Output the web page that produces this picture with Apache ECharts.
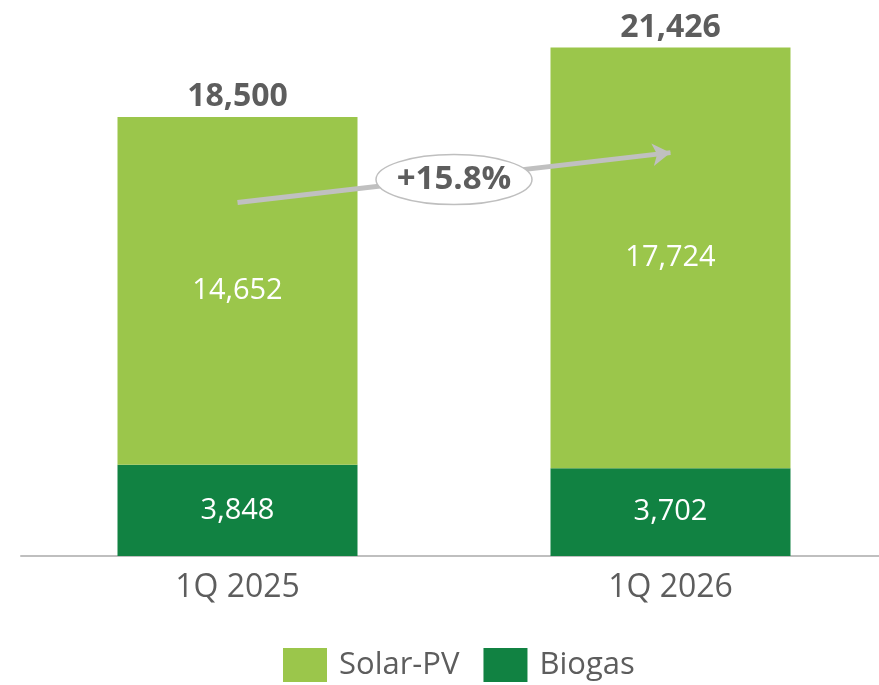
<!DOCTYPE html>
<html>
<head>
    <meta charset="UTF-8">
    <title>Solar-PV / Biogas</title>
    <script src="https://cdn.jsdelivr.net/npm/echarts/dist/echarts.min.js"></script>
    <style>
        html, body { margin: 0; padding: 0; background: #fff; }
    </style>
</head>
<body>
    <div id="main" style="width: 879px;height:685px;"></div>
    <script type="text/javascript">
        var myChart = echarts.init(document.getElementById('main'));

        // data
        var categories = ['1Q 2025', '1Q 2026'];
        var biogas = [3848, 3702];
        var solarPV = [14652, 17724];
        var totals = [18500, 21426];
        var growthLabel = '+15.8%';
        // arrow from/to (value axis)
        var arrowValues = [14900, 17000];

        var grey = '#5d5d5d';
        var font = 'Open Sans';

        function fmt(v) {
            return v.toLocaleString('en-US');
        }

        var option = {
            animation: false,
            textStyle: { fontFamily: font },
            grid: {
                left: 21,
                width: 866,
                top: 34,
                bottom: 129,
                containLabel: false,
                outerBoundsMode: 'none'
            },
            legend: {
                data: ['Solar-PV', 'Biogas'],
                left: 283,
                top: 648,
                padding: 0,
                itemWidth: 44,
                itemHeight: 34,
                itemGap: 24,
                icon: 'rect',
                textStyle: { fontSize: 31, color: grey, fontFamily: font, padding: [0, 0, 0, 7] }
            },
            xAxis: {
                type: 'category',
                data: categories,
                axisLine: { lineStyle: { color: '#bfbfbf', width: 2 } },
                axisTick: { show: false },
                axisLabel: { fontSize: 32, color: grey, margin: 16, fontFamily: font }
            },
            yAxis: {
                type: 'value',
                min: 0,
                max: 22000,
                show: false,
                splitLine: { show: false }
            },
            series: [
                {
                    name: 'Biogas',
                    type: 'bar',
                    stack: 'total',
                    barWidth: 240,
                    data: biogas,
                    itemStyle: { color: '#118242' },
                    label: {
                        show: true,
                        position: 'inside',
                        color: '#fff',
                        fontSize: 29,
                        fontFamily: font,
                        formatter: function (p) { return fmt(p.value); }
                    }
                },
                {
                    name: 'Solar-PV',
                    type: 'bar',
                    stack: 'total',
                    barWidth: 240,
                    data: solarPV,
                    itemStyle: { color: '#9bc64b' },
                    label: {
                        show: true,
                        position: 'inside',
                        color: '#fff',
                        fontSize: 29,
                        fontFamily: font,
                        formatter: function (p) { return fmt(p.value); }
                    },
                    markLine: {
                        silent: true,
                        symbol: ['none', 'arrow'],
                        symbolSize: [17, 18],
                        label: { show: false },
                        lineStyle: { color: '#c0c0c0', width: 5, type: 'solid' },
                        data: [[
                            { coord: [categories[0], arrowValues[0]] },
                            { coord: [categories[1], arrowValues[1]] }
                        ]]
                    }
                },
                {
                    name: 'Total',
                    type: 'bar',
                    barWidth: 240,
                    barGap: '-100%',
                    z: 1,
                    data: totals,
                    itemStyle: { color: 'rgba(0,0,0,0)' },
                    label: {
                        show: true,
                        position: 'top',
                        distance: 4,
                        color: grey,
                        fontSize: 32,
                        fontWeight: 'bold',
                        fontFamily: font,
                        formatter: function (p) { return fmt(p.value); }
                    }
                }
            ]
        };

        myChart.setOption(option);

        // growth bubble at the middle of the arrow
        var p0 = myChart.convertToPixel({ xAxisIndex: 0, yAxisIndex: 0 }, [categories[0], arrowValues[0]]);
        var p1 = myChart.convertToPixel({ xAxisIndex: 0, yAxisIndex: 0 }, [categories[1], arrowValues[1]]);
        var cx = (p0[0] + p1[0]) / 2;
        var cy = (p0[1] + p1[1]) / 2;

        myChart.setOption({
            graphic: [
                {
                    type: 'ellipse',
                    z: 100,
                    shape: { cx: cx, cy: cy + 2, rx: 78, ry: 25 },
                    style: { fill: '#fff', stroke: '#bfbfbf', lineWidth: 1.5 }
                },
                {
                    type: 'text',
                    z: 101,
                    x: cx,
                    y: cy + 2,
                    style: {
                        text: growthLabel,
                        fill: grey,
                        font: 'bold 33px "Open Sans"',
                        align: 'center',
                        verticalAlign: 'middle'
                    }
                }
            ]
        });
    </script>
</body>
</html>
